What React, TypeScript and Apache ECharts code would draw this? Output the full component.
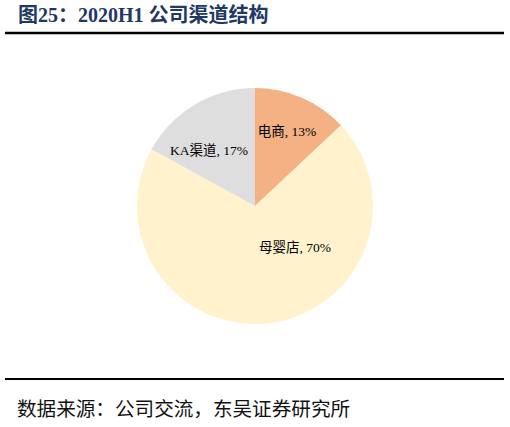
import * as echarts from 'echarts';
import React, { useEffect, useRef } from 'react';

const channels = ['电商', '母婴店', 'KA渠道'];
const shares = [13, 70, 17];
const sliceColors = ['#F4B183', '#FFF2CC', '#DEDEDE'];

// label anchors (centre of each label), taken from the reference layout
const labelAnchors: [number, number][] = [
  [287, 131],
  [295, 247],
  [209, 150],
];

const FONT = "'Liberation Serif', 'Noto Sans CJK SC', serif";

const ChannelPie: React.FC = () => {
  const chartRef = useRef<HTMLDivElement>(null);

  useEffect(() => {
    let chart: echarts.ECharts | undefined;
    if (chartRef.current) {
      chart = echarts.init(chartRef.current, undefined, { renderer: 'svg' });

      const option: echarts.EChartsOption = {
        animation: false,
        backgroundColor: '#ffffff',
        graphic: [
          {
            type: 'text',
            left: 18,
            top: 5,
            style: {
              text: '图25：2020H1 公司渠道结构',
              font: `bold 20px ${FONT}`,
              fill: '#1F3864',
            },
          },
          {
            type: 'line',
            shape: { x1: 5, y1: 33, x2: 504, y2: 33 },
            style: { stroke: '#000000', lineWidth: 2.5 },
          },
          {
            type: 'line',
            shape: { x1: 5, y1: 379, x2: 504, y2: 379 },
            style: { stroke: '#000000', lineWidth: 2 },
          },
          {
            type: 'text',
            left: 17,
            top: 400,
            style: {
              text: '数据来源：公司交流，东吴证券研究所',
              font: `19.6px ${FONT}`,
              fill: '#111111',
            },
          },
        ],
        series: [
          {
            type: 'pie',
            center: [255, 206],
            radius: [0, 118],
            startAngle: 90,
            clockwise: true,
            silent: true,
            itemStyle: { borderWidth: 0 },
            label: {
              show: true,
              position: 'inside',
              formatter: '{b}, {d}%',
              fontFamily: FONT,
              fontSize: 13.5,
              color: '#000000',
            },
            labelLine: { show: false },
            labelLayout: (params: any) => {
              const [x, y] = labelAnchors[params.dataIndex];
              return { x, y, align: 'center', verticalAlign: 'middle' };
            },
            data: channels.map((name, i) => ({
              name,
              value: shares[i],
              itemStyle: { color: sliceColors[i] },
            })),
          },
        ],
      };

      chart.setOption(option);
    }
    return () => {
      chart?.dispose();
    };
  }, []);

  return (
    <div
      ref={chartRef}
      style={{ position: 'absolute', left: 0, top: 0, width: '510px', height: '427px' }}
    />
  );
};

export default function App() {
  return <ChannelPie />;
}
